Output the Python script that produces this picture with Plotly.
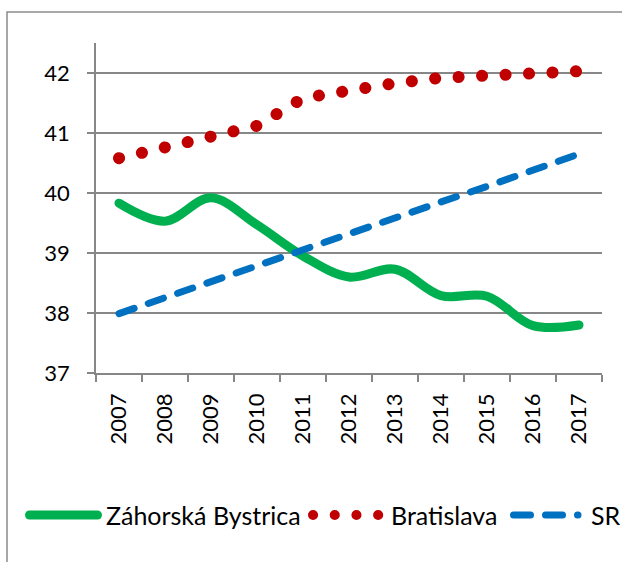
import plotly.graph_objects as go

years = ["2007", "2008", "2009", "2010", "2011", "2012", "2013", "2014", "2015", "2016", "2017"]
zahorska = [39.83, 39.53, 39.92, 39.47, 38.95, 38.60, 38.73, 38.29, 38.28, 37.79, 37.80]
bratislava = [40.58, 40.77, 40.95, 41.12, 41.58, 41.72, 41.83, 41.92, 41.97, 42.01, 42.03]
sr = [37.99, 38.26, 38.52, 38.79, 39.05, 39.32, 39.58, 39.85, 40.11, 40.38, 40.65]
series_names = ["Záhorská Bystrica", "Bratislava", "SR"]
y_ticks = [37, 38, 39, 40, 41, 42]

GREEN = "#00B050"
RED = "#C00000"
BLUE = "#0070C0"
GRID = "#878787"
FONT = "Lato"

W, H = 622, 562
L, R, T, B = 96, 20, 43, 189
PW, PH = W - L - R, H - T - B


def px(x):
    return (x - L) / PW


def py(y):
    return (H - B - y) / PH


fig = go.Figure()
fig.add_trace(go.Scatter(x=years, y=zahorska, mode="lines", name=series_names[0],
                         line=dict(color=GREEN, width=9, shape="spline", smoothing=1)))
fig.add_trace(go.Scatter(x=years, y=bratislava, mode="lines", name=series_names[1],
                         line=dict(color=RED, width=12, dash="0.1px,23.4px")))
fig.add_trace(go.Scatter(x=years, y=sr, mode="lines", name=series_names[2],
                         line=dict(color=BLUE, width=7, dash="16px,15px")))

shapes = []
# outer chart border
shapes.append(dict(type="rect", xref="paper", yref="paper",
                   x0=px(7), x1=px(640), y0=py(12), y1=py(600),
                   line=dict(color="#8C8C8C", width=1.5), layer="below"))
ly = py(515)
shapes.append(dict(type="line", xref="paper", yref="paper", x0=px(29.5), x1=px(97.5), y0=ly, y1=ly,
                   line=dict(color=GREEN, width=9)))
shapes.append(dict(type="line", xref="paper", yref="paper", x0=px(313), x1=px(378.3), y0=ly, y1=ly,
                   line=dict(color=RED, width=10, dash="0.1px,21.6px")))
shapes.append(dict(type="line", xref="paper", yref="paper", x0=px(513.5), x1=px(578), y0=ly, y1=ly,
                   line=dict(color=BLUE, width=7, dash="17px,15px")))

annotations = []
for name, xs in zip(series_names, [104, 389, 589]):
    annotations.append(dict(text=name, xref="paper", yref="paper", x=px(xs), y=ly,
                            xanchor="left", yanchor="middle", showarrow=False,
                            font=dict(family=FONT, size=25, color="black")))

fig.update_layout(
    width=W, height=H,
    margin=dict(l=L, r=R, t=T, b=B, autoexpand=False),
    paper_bgcolor="white", plot_bgcolor="white",
    showlegend=False,
    shapes=shapes, annotations=annotations,
    xaxis=dict(type="category", range=[-0.5, 10.5], tickangle=-90,
               tickson="boundaries", ticks="outside", ticklen=7, tickcolor=GRID, tickwidth=1.5,
               showline=True, linecolor=GRID, linewidth=1.5, showgrid=False,
               tickfont=dict(family=FONT, size=22, color="black"), ticklabelstandoff=10),
    yaxis=dict(range=[37, 42.5], tickvals=y_ticks, ticks="outside", ticklen=7,
               tickcolor=GRID, tickwidth=1.5, showline=True, linecolor=GRID, linewidth=1.5,
               showgrid=True, gridcolor=GRID, gridwidth=1.5, zeroline=False,
               tickfont=dict(family=FONT, size=22, color="black"), ticklabelstandoff=13),
)

post = """
document.body.style.margin='0';
document.body.style.padding='0';
var s=document.createElement('style');
s.textContent='body{margin:0;padding:0;} .js-line, .shapelayer path {stroke-linecap: round !important;}';
document.head.appendChild(s);
"""
fig.write_html("out.html", post_script=post, config={"displayModeBar": False})
